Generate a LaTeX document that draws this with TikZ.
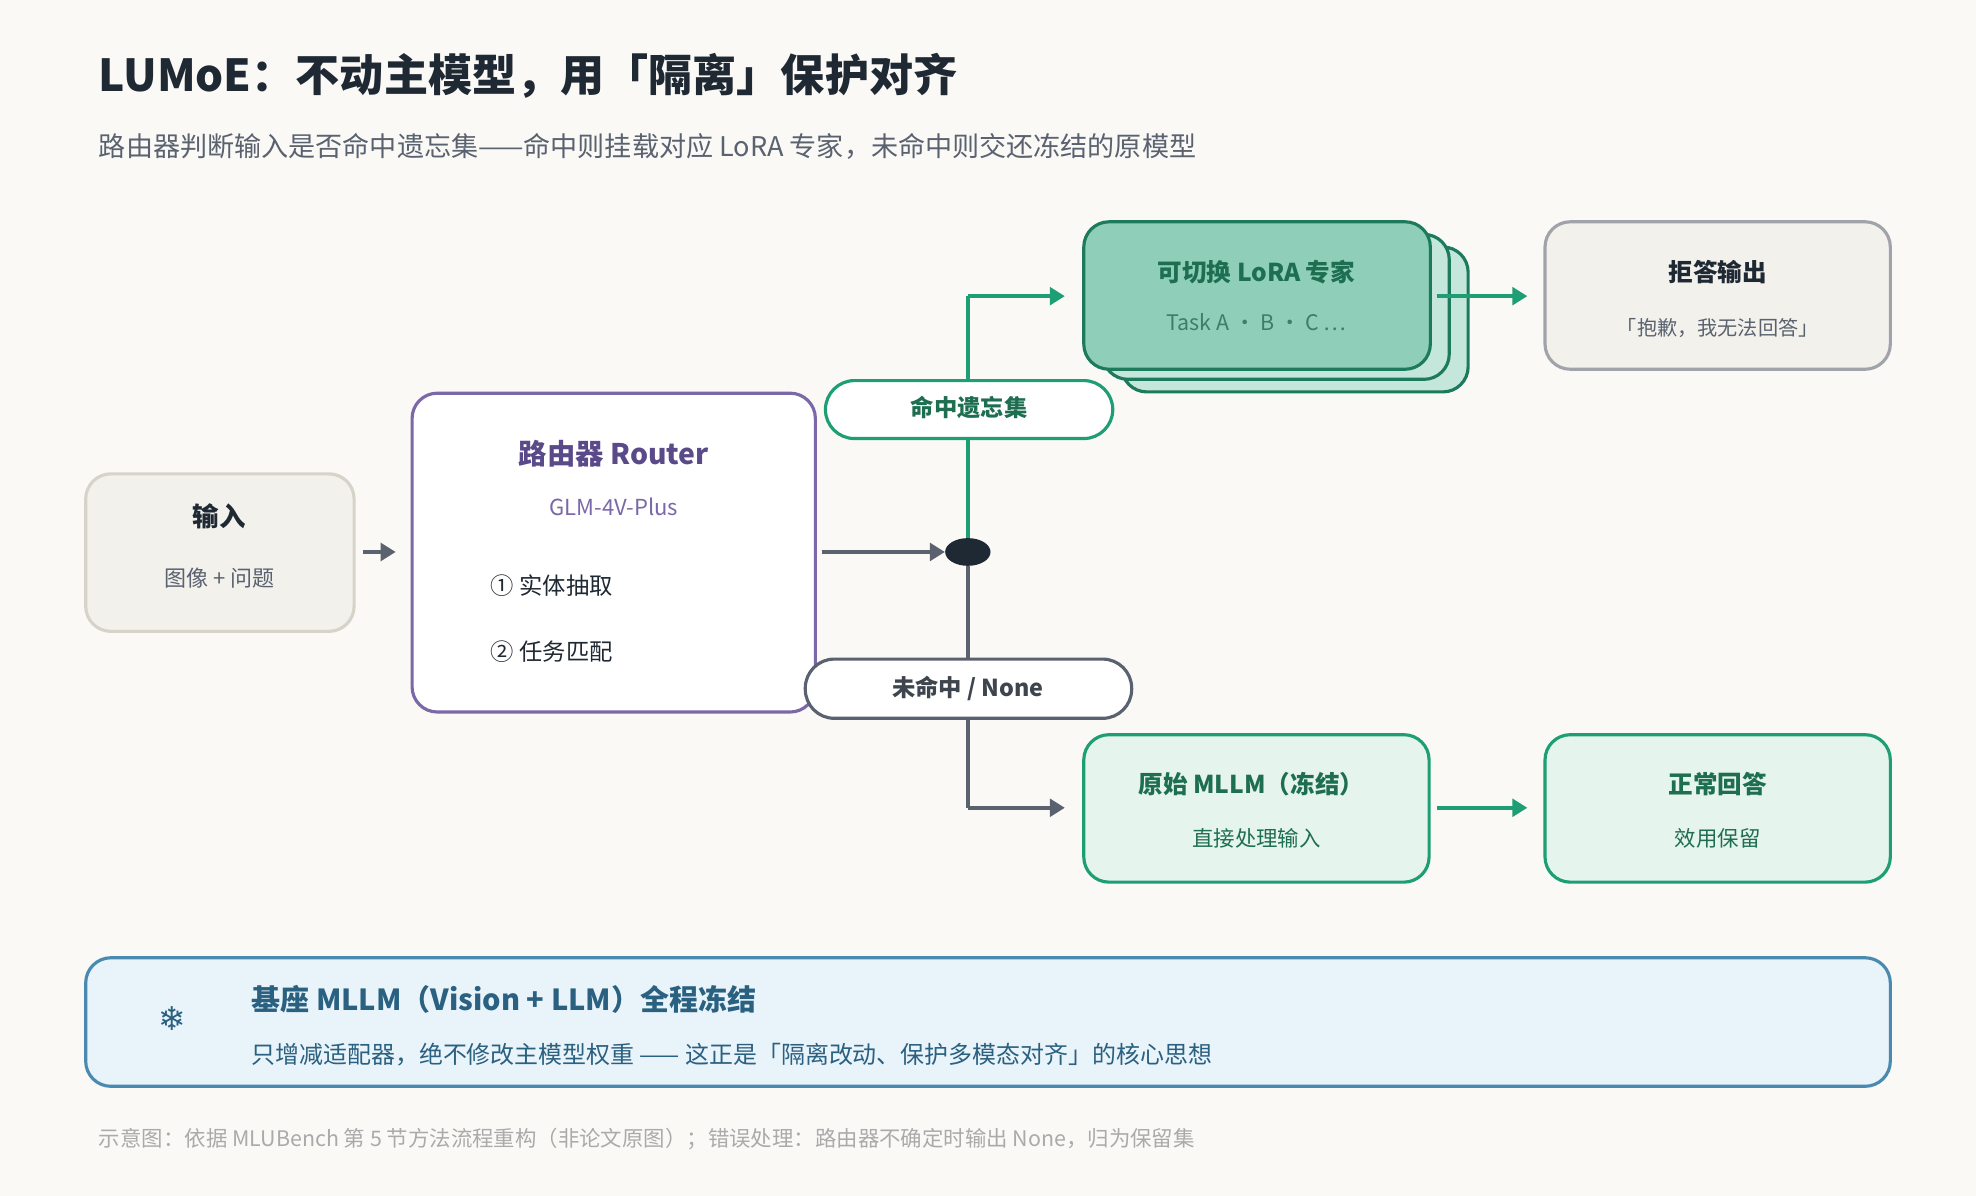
\documentclass[tikz,border=0pt]{standalone}
\usepackage{fontspec}
\setmainfont{Noto Sans CJK SC}
\newfontfamily\djv{DejaVu Sans}
\usetikzlibrary{arrows.meta,shapes.geometric}
\definecolor{bg}{HTML}{FAF9F6}
\definecolor{ink}{HTML}{1F2933}
\definecolor{grn}{HTML}{1E9E74}
\definecolor{dgrn}{HTML}{1E6E52}
\definecolor{tgrn}{HTML}{3E7E66}
\definecolor{gry}{HTML}{5A6270}
\definecolor{pur}{HTML}{7A68A8}
\definecolor{dpur}{HTML}{5A4A8A}
\definecolor{blu}{HTML}{4A8AB0}
\definecolor{dblu}{HTML}{2A6080}
\definecolor{sand}{HTML}{F2F1EC}
\definecolor{sandb}{HTML}{D6D4C8}
\definecolor{lgrn}{HTML}{C5E6DA}
\definecolor{mgrn}{HTML}{8FCFB9}
\definecolor{sgrn}{HTML}{1E7A5C}
\definecolor{refb}{HTML}{A0A4AA}
\definecolor{pgrn}{HTML}{E6F4EE}
\definecolor{pblu}{HTML}{E8F3FA}
\definecolor{foot}{HTML}{AAAAAA}
\tikzset{
  box/.style={rounded corners=20pt, line width=2.5pt},
  fs/.style={font=\fontsize{#1}{#1}\selectfont},
  arr/.style={line width=3.5pt,-{Triangle[length=12pt,width=14pt]}},
  pill/.style={rounded corners=23pt, line width=2.5pt, fill=white},
}
\begin{document}
\begin{tikzpicture}[x=1pt,y=-1pt]
\fill[bg] (0,0) rectangle (1568,949);
\useasboundingbox (0,0) rectangle (1568,949);
\node[anchor=west,text=ink] (title) at (75,60) {\fontsize{35}{35}\selectfont\bfseries LUMoE：不动主模型，用「隔离」保护对齐};
\node[anchor=west,fs=21.5,text=gry] (sub) at (75,116) {路由器判断输入是否命中遗忘集——命中则挂载对应 LoRA 专家，未命中则交还冻结的原模型};
% input
\draw[box,fill=sand,draw=sandb] (68,376) rectangle (281,501);
\coordinate (inR) at (288,438);
\node[text=ink] at (174,410) {\fontsize{21}{21}\selectfont\bfseries 输入};
\node[fs=17.5,text=gry] at (174,459) {图像 + 问题};
% router
\draw[box,fill=white,draw=pur] (327,312) rectangle (647,565);
\coordinate (rL) at (314,438);
\coordinate (rR) at (652,438);
\node[text=dpur] at (487,360) {\fontsize{22.5}{22.5}\selectfont\bfseries 路由器 Router};
\node[fs=17.5,text=pur] at (487,402) {GLM-4V-Plus};
\node[anchor=west,fs=18.5,text=ink] at (386,465) {① 实体抽取};
\node[anchor=west,fs=18.5,text=ink] at (386,517) {② 任务匹配};
\draw[arr,draw=gry] (inR) -- (rL);
\node[ellipse,fill=ink,minimum width=36pt,minimum height=22pt,inner sep=0] (dot) at (768,438) {};
\draw[arr,draw=gry] (rR) -- (dot.west);
% branches
\coordinate (up) at (768,235);
\coordinate (dn) at (768,641);
\draw[line width=3.5pt,grn] (dot) -- (up);
\draw[arr,draw=grn] (up) -- (845,235);
\draw[line width=3.5pt,gry] (dot) -- (dn);
\draw[arr,draw=gry] (dn) -- (845,641);
\draw[pill,draw=grn] (655,302) rectangle (883,348);
\node[text=dgrn] (hit) at (769,323) {\fontsize{18.5}{18.5}\selectfont\bfseries 命中遗忘集};
\draw[pill,draw=gry] (639,523) rectangle (898,570);
\node[text=gry!70!black] (miss) at (768,546) {\fontsize{18.5}{18.5}\selectfont\bfseries 未命中 / None};
% LoRA stack
\draw[box,fill=lgrn,draw=sgrn] (890,196) rectangle (1165,311);
\draw[box,fill=lgrn,draw=sgrn] (875,186) rectangle (1150,301);
\draw[box,fill=mgrn,draw=sgrn] (860,176) rectangle (1135,293);
\node[text=dgrn] at (997,216) {\fontsize{19.5}{19.5}\selectfont\bfseries 可切换 LoRA 专家};
\node[fs=17,text=tgrn] at (997,256) {Task A · B · C ⋯};
\draw[arr,draw=grn] (1140,235) -- (1212,235);
% refuse
\draw[box,fill=sand,draw=refb] (1226,176) rectangle (1500,293);
\node[text=ink] at (1363,216) {\fontsize{19.5}{19.5}\selectfont\bfseries 拒答输出};
\node[fs=16,text=gry] at (1363,260) {「抱歉，我无法回答」};
% MLLM
\draw[box,fill=pgrn,draw=grn] (860,583) rectangle (1134,700);
\node[text=dgrn] at (993,622) {\fontsize{19.5}{19.5}\selectfont\bfseries 原始 MLLM（冻结）};
\node[fs=17,text=dgrn] at (997,665) {直接处理输入};
\draw[arr,draw=grn] (1140,641) -- (1212,641);
\draw[box,fill=pgrn,draw=grn] (1226,583) rectangle (1500,700);
\node[text=dgrn] at (1363,622) {\fontsize{19.5}{19.5}\selectfont\bfseries 正常回答};
\node[fs=17,text=dgrn] at (1363,665) {效用保留};
% bottom band
\draw[box,fill=pblu,draw=blu] (68,760) rectangle (1500,862);
\node[text=dblu] at (137,808) {\djv\fontsize{26}{26}\selectfont ❄};
\node[anchor=west,text=dblu] at (196,793) {\fontsize{23}{23}\selectfont\bfseries 基座 MLLM（Vision + LLM）全程冻结};
\node[anchor=west,fs=19,text=dblu] at (196,837) {只增减适配器，绝不修改主模型权重 —— 这正是「隔离改动、保护多模态对齐」的核心思想};
\node[anchor=west,fs=17,text=foot] at (75,904) {示意图：依据 MLUBench 第 5 节方法流程重构（非论文原图）；错误处理：路由器不确定时输出 None，归为保留集};
\end{tikzpicture}
\end{document}
